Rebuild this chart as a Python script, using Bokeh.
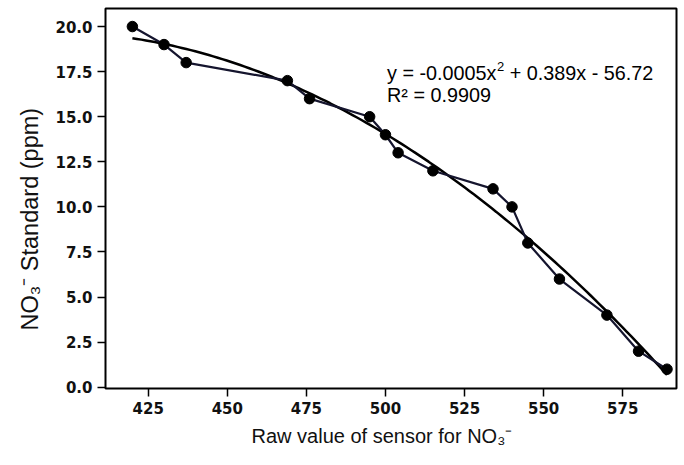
import numpy as np
from bokeh.plotting import figure
from bokeh.models import FixedTicker, PrintfTickFormatter, Label, Title
from bokeh.embed import file_html
from bokeh.resources import INLINE

# ---- data ----
raw_value = [420, 430, 437, 469, 476, 495, 500, 504, 515, 534, 540, 545, 555, 570, 580, 589]
no3_ppm = [20, 19, 18, 17, 16, 15, 14, 13, 12, 11, 10, 8, 6, 4, 2, 1]
x_ticks = [425, 450, 475, 500, 525, 550, 575]
y_ticks = [0.0, 2.5, 5.0, 7.5, 10.0, 12.5, 15.0, 17.5, 20.0]
eq_part1 = "y = -0.0005x"
eq_sup = "2"
eq_part2 = "+ 0.389x - 56.72"
r2_text = "R² = 0.9909"
x_label = "Raw value of sensor for NO₃⁻"
y_label = "NO₃⁻ Standard (ppm)"

# quadratic trend line fitted to the data
coef = np.polyfit(raw_value, no3_ppm, 2)
fit_x = np.linspace(min(raw_value), max(raw_value), 120)
fit_y = np.polyval(coef, fit_x)

W, H = 684, 465
p = figure(width=W, height=H, x_range=(411.5, 592.0), y_range=(-0.07, 21.0),
           output_backend="svg", toolbar_location=None,
           min_border_left=105, min_border_right=8, min_border_top=8, min_border_bottom=77)
p.grid.visible = False
p.background_fill_color = "white"
p.border_fill_color = "white"
p.outline_line_color = "black"
p.outline_line_width = 2

for ax in (p.xaxis[0], p.yaxis[0]):
    ax.axis_line_color = None
    ax.major_tick_line_color = "black"
    ax.major_tick_line_width = 1.5
    ax.major_tick_out = 8
    ax.major_tick_in = 0
    ax.minor_tick_line_color = None
    ax.major_label_text_font = "DejaVu Sans"
    ax.major_label_text_font_size = "15px"
    ax.major_label_text_font_style = "bold"
    ax.major_label_text_color = "#111111"
    ax.major_label_standoff = 5

p.xaxis[0].ticker = FixedTicker(ticks=x_ticks)
p.yaxis[0].ticker = FixedTicker(ticks=y_ticks)
p.yaxis[0].formatter = PrintfTickFormatter(format="%.1f")

# trend line, connecting line, points
p.line(fit_x, fit_y, line_color="black", line_width=2.5)
p.line(raw_value, no3_ppm, line_color="#15152e", line_width=2.2)
p.scatter(raw_value, no3_ppm, size=10.5, fill_color="black", line_color="black")

# equation text (data-unit anchor, pixel offsets for the pieces)
eq_font = "Liberation Sans"
eq_size = 19.8
w1 = 5.531 * eq_size          # width of "y = -0.0005x" (Arial metrics)
p.add_layout(Label(x=500.5, y=17.45, text=eq_part1, text_font=eq_font,
                   text_font_size=f"{eq_size}px", text_color="black", text_baseline="alphabetic"))
p.add_layout(Label(x=500.5, y=17.45, x_offset=w1 + 0.5, y_offset=6.5, text=eq_sup,
                   text_font=eq_font, text_font_size="13px", text_color="black",
                   text_baseline="alphabetic"))
p.add_layout(Label(x=500.5, y=17.45, x_offset=w1 + 0.5 + 7.2 + 0.278 * eq_size,
                   text=eq_part2, text_font=eq_font, text_font_size=f"{eq_size}px",
                   text_color="black", text_baseline="alphabetic"))
p.add_layout(Label(x=500.5, y=16.22, text=r2_text, text_font=eq_font,
                   text_font_size=f"{eq_size}px", text_color="black", text_baseline="alphabetic"))

# axis titles as side titles (left-aligned with pixel offsets from the frame edge)
p.add_layout(Title(text=x_label, align="left", offset=146, standoff=12,
                   text_font="Liberation Sans", text_font_size="20px",
                   text_font_style="normal", text_color="#111111"), "below")
p.add_layout(Title(text=y_label, align="left", offset=58, standoff=20,
                   text_font="Liberation Sans", text_font_size="23.5px",
                   text_font_style="normal", text_color="#111111"), "left")

open("out.html", "w").write(file_html(p, INLINE))
